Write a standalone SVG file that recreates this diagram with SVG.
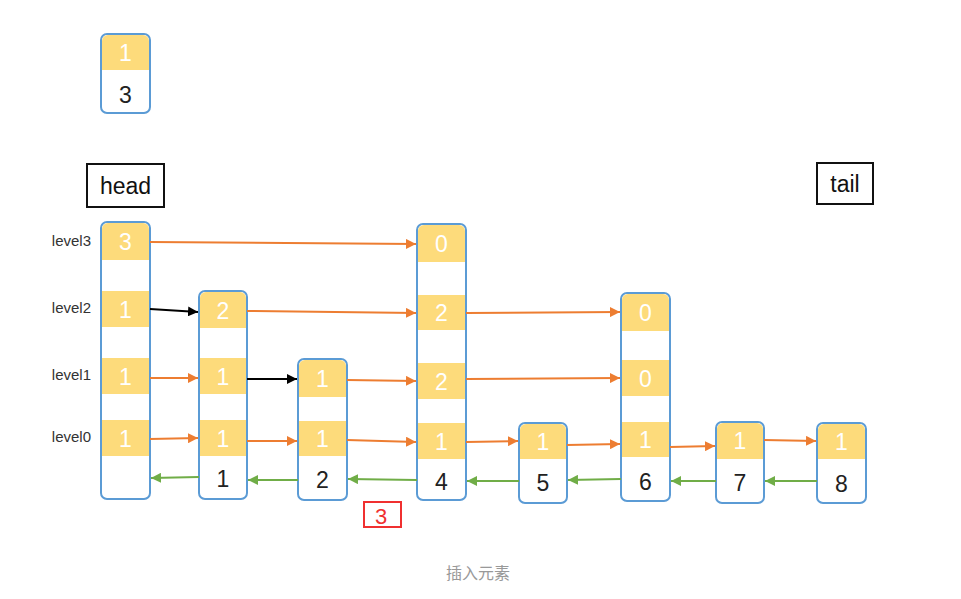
<svg xmlns="http://www.w3.org/2000/svg" width="961" height="599" viewBox="0 0 961 599">
<defs>
<style>
.node{fill:#fff;stroke:#5B9BD5;stroke-width:2}
.y{fill:#FDDB7B}
.w{fill:#fff;font-family:"Liberation Sans",Arial,sans-serif;font-size:23px;text-anchor:middle}
.k{fill:#222;font-family:"Liberation Sans",Arial,sans-serif;font-size:23px;text-anchor:middle}
.lv{fill:#333;font-family:"Liberation Sans",Arial,sans-serif;font-size:15px;text-anchor:end}
.lbl{fill:#111;font-family:"Liberation Sans",Arial,sans-serif;font-size:23px;text-anchor:middle}
.box{fill:#fff;stroke:#111;stroke-width:2}
.or{stroke:#ED7D31;stroke-width:2;fill:none;marker-end:url(#ao)}
.bk{stroke:#000;stroke-width:2;fill:none;marker-end:url(#ab)}
.gr{stroke:#70AD47;stroke-width:2;fill:none;marker-end:url(#ag)}
</style>
<marker id="ao" viewBox="0 0 10 10" refX="10" refY="5" markerWidth="5" markerHeight="5" orient="auto" markerUnits="strokeWidth"><path d="M0,0L10,5L0,10z" fill="#ED7D31"/></marker>
<marker id="ab" viewBox="0 0 10 10" refX="10" refY="5" markerWidth="5" markerHeight="5" orient="auto" markerUnits="strokeWidth"><path d="M0,0L10,5L0,10z" fill="#000"/></marker>
<marker id="ag" viewBox="0 0 10 10" refX="10" refY="5" markerWidth="5" markerHeight="5" orient="auto" markerUnits="strokeWidth"><path d="M0,0L10,5L0,10z" fill="#70AD47"/></marker>
</defs>
<rect width="961" height="599" fill="#fff"/>

<g id="newnode">
<rect class="node" x="101" y="34" width="49" height="79" rx="6"/>
<path class="y" d="M102,70V41a6,6 0 0 1 6-6h35a6,6 0 0 1 6,6V70z"/>
<text class="w" x="125.5" y="61">1</text>
<text class="k" x="125.5" y="103">3</text>
</g>

<g id="headlabel"><rect class="box" x="87" y="164" width="77" height="43"/><text class="lbl" x="125.5" y="194">head</text></g>
<g id="taillabel"><rect class="box" x="817" y="163" width="56" height="41"/><text class="lbl" x="845" y="192">tail</text></g>

<g id="levels">
<text class="lv" x="91" y="246">level3</text>
<text class="lv" x="91" y="313">level2</text>
<text class="lv" x="91" y="380">level1</text>
<text class="lv" x="91" y="442">level0</text>
</g>

<g id="head">
<rect class="node" x="101" y="222" width="49" height="277" rx="6"/>
<path class="y" d="M102,260V229a6,6 0 0 1 6-6h35a6,6 0 0 1 6,6V260z"/>
<rect class="y" x="102" y="291" width="47" height="36"/>
<rect class="y" x="102" y="358" width="47" height="36"/>
<rect class="y" x="102" y="420" width="47" height="36"/>
<text class="w" x="125.5" y="250">3</text>
<text class="w" x="125.5" y="318">1</text>
<text class="w" x="125.5" y="385">1</text>
<text class="w" x="125.5" y="447">1</text>
</g>

<g id="n1">
<rect class="node" x="199" y="291" width="48" height="208" rx="6"/>
<path class="y" d="M200,328V298a6,6 0 0 1 6-6h34a6,6 0 0 1 6,6V328z"/>
<rect class="y" x="200" y="358" width="46" height="36"/>
<rect class="y" x="200" y="420" width="46" height="36"/>
<text class="w" x="223" y="319">2</text>
<text class="w" x="223" y="385">1</text>
<text class="w" x="223" y="447">1</text>
<text class="k" x="223" y="487">1</text>
</g>

<g id="n2">
<rect class="node" x="298" y="359" width="49" height="141" rx="6"/>
<path class="y" d="M299,397V366a6,6 0 0 1 6-6h35a6,6 0 0 1 6,6V397z"/>
<rect class="y" x="299" y="421" width="47" height="35"/>
<text class="w" x="322.5" y="387">1</text>
<text class="w" x="322.5" y="447">1</text>
<text class="k" x="322.5" y="488">2</text>
</g>

<g id="n4">
<rect class="node" x="417" y="224" width="49" height="276" rx="6"/>
<path class="y" d="M418,262V231a6,6 0 0 1 6-6h35a6,6 0 0 1 6,6V262z"/>
<rect class="y" x="418" y="295" width="47" height="35"/>
<rect class="y" x="418" y="363" width="47" height="36"/>
<rect class="y" x="418" y="423" width="47" height="36"/>
<text class="w" x="441.5" y="252">0</text>
<text class="w" x="441.5" y="321">2</text>
<text class="w" x="441.5" y="390">2</text>
<text class="w" x="441.5" y="450">1</text>
<text class="k" x="441.5" y="490">4</text>
</g>

<g id="n5">
<rect class="node" x="519" y="423" width="48" height="80" rx="6"/>
<path class="y" d="M520,459V430a6,6 0 0 1 6-6h34a6,6 0 0 1 6,6V459z"/>
<text class="w" x="543" y="450">1</text>
<text class="k" x="543" y="491">5</text>
</g>

<g id="n6">
<rect class="node" x="621" y="293" width="49" height="208" rx="6"/>
<path class="y" d="M622,331V300a6,6 0 0 1 6-6h35a6,6 0 0 1 6,6V331z"/>
<rect class="y" x="622" y="360" width="47" height="36"/>
<rect class="y" x="622" y="422" width="47" height="35"/>
<text class="w" x="645.5" y="321">0</text>
<text class="w" x="645.5" y="387">0</text>
<text class="w" x="645.5" y="448">1</text>
<text class="k" x="645.5" y="490">6</text>
</g>

<g id="n7">
<rect class="node" x="716" y="422" width="48" height="81" rx="6"/>
<path class="y" d="M717,459V429a6,6 0 0 1 6-6h34a6,6 0 0 1 6,6V459z"/>
<text class="w" x="740" y="449">1</text>
<text class="k" x="740" y="491">7</text>
</g>

<g id="n8">
<rect class="node" x="817" y="423" width="49" height="80" rx="6"/>
<path class="y" d="M818,459V430a6,6 0 0 1 6-6h35a6,6 0 0 1 6,6V459z"/>
<text class="w" x="841.5" y="450">1</text>
<text class="k" x="841.5" y="492">8</text>
</g>

<g id="connectors">
<line class="or" x1="150" y1="242" x2="416" y2="244"/>
<line class="bk" x1="150" y1="309" x2="198" y2="312"/>
<line class="or" x1="247" y1="311" x2="416" y2="313"/>
<line class="or" x1="466" y1="313" x2="620" y2="312"/>
<line class="or" x1="150" y1="378" x2="198" y2="378"/>
<line class="bk" x1="247" y1="379" x2="297" y2="379"/>
<line class="or" x1="347" y1="380" x2="416" y2="381"/>
<line class="or" x1="466" y1="379" x2="620" y2="378"/>
<line class="or" x1="150" y1="439" x2="198" y2="438"/>
<line class="or" x1="247" y1="441" x2="297" y2="441"/>
<line class="or" x1="347" y1="440" x2="416" y2="442"/>
<line class="or" x1="466" y1="442" x2="518" y2="441"/>
<line class="or" x1="567" y1="445" x2="620" y2="444"/>
<line class="or" x1="670" y1="447" x2="715" y2="446"/>
<line class="or" x1="764" y1="440" x2="816" y2="441"/>
<line class="gr" x1="199" y1="477" x2="151" y2="478"/>
<line class="gr" x1="298" y1="480" x2="248" y2="480"/>
<line class="gr" x1="417" y1="480" x2="348" y2="479"/>
<line class="gr" x1="519" y1="481" x2="467" y2="481"/>
<line class="gr" x1="621" y1="479" x2="568" y2="480"/>
<line class="gr" x1="716" y1="481" x2="671" y2="481"/>
<line class="gr" x1="817" y1="481" x2="765" y2="481"/>
</g>

<g id="insertpos">
<rect x="364" y="502" width="37" height="25" fill="none" stroke="#F03030" stroke-width="2"/>
<text x="381" y="524" fill="#F03030" font-family="'Liberation Sans',Arial,sans-serif" font-size="22" text-anchor="middle">3</text>
</g>

<text x="478" y="579" fill="#999" font-family="'Noto Sans CJK SC','Liberation Sans',sans-serif" font-size="16" text-anchor="middle">插入元素</text>
</svg>
